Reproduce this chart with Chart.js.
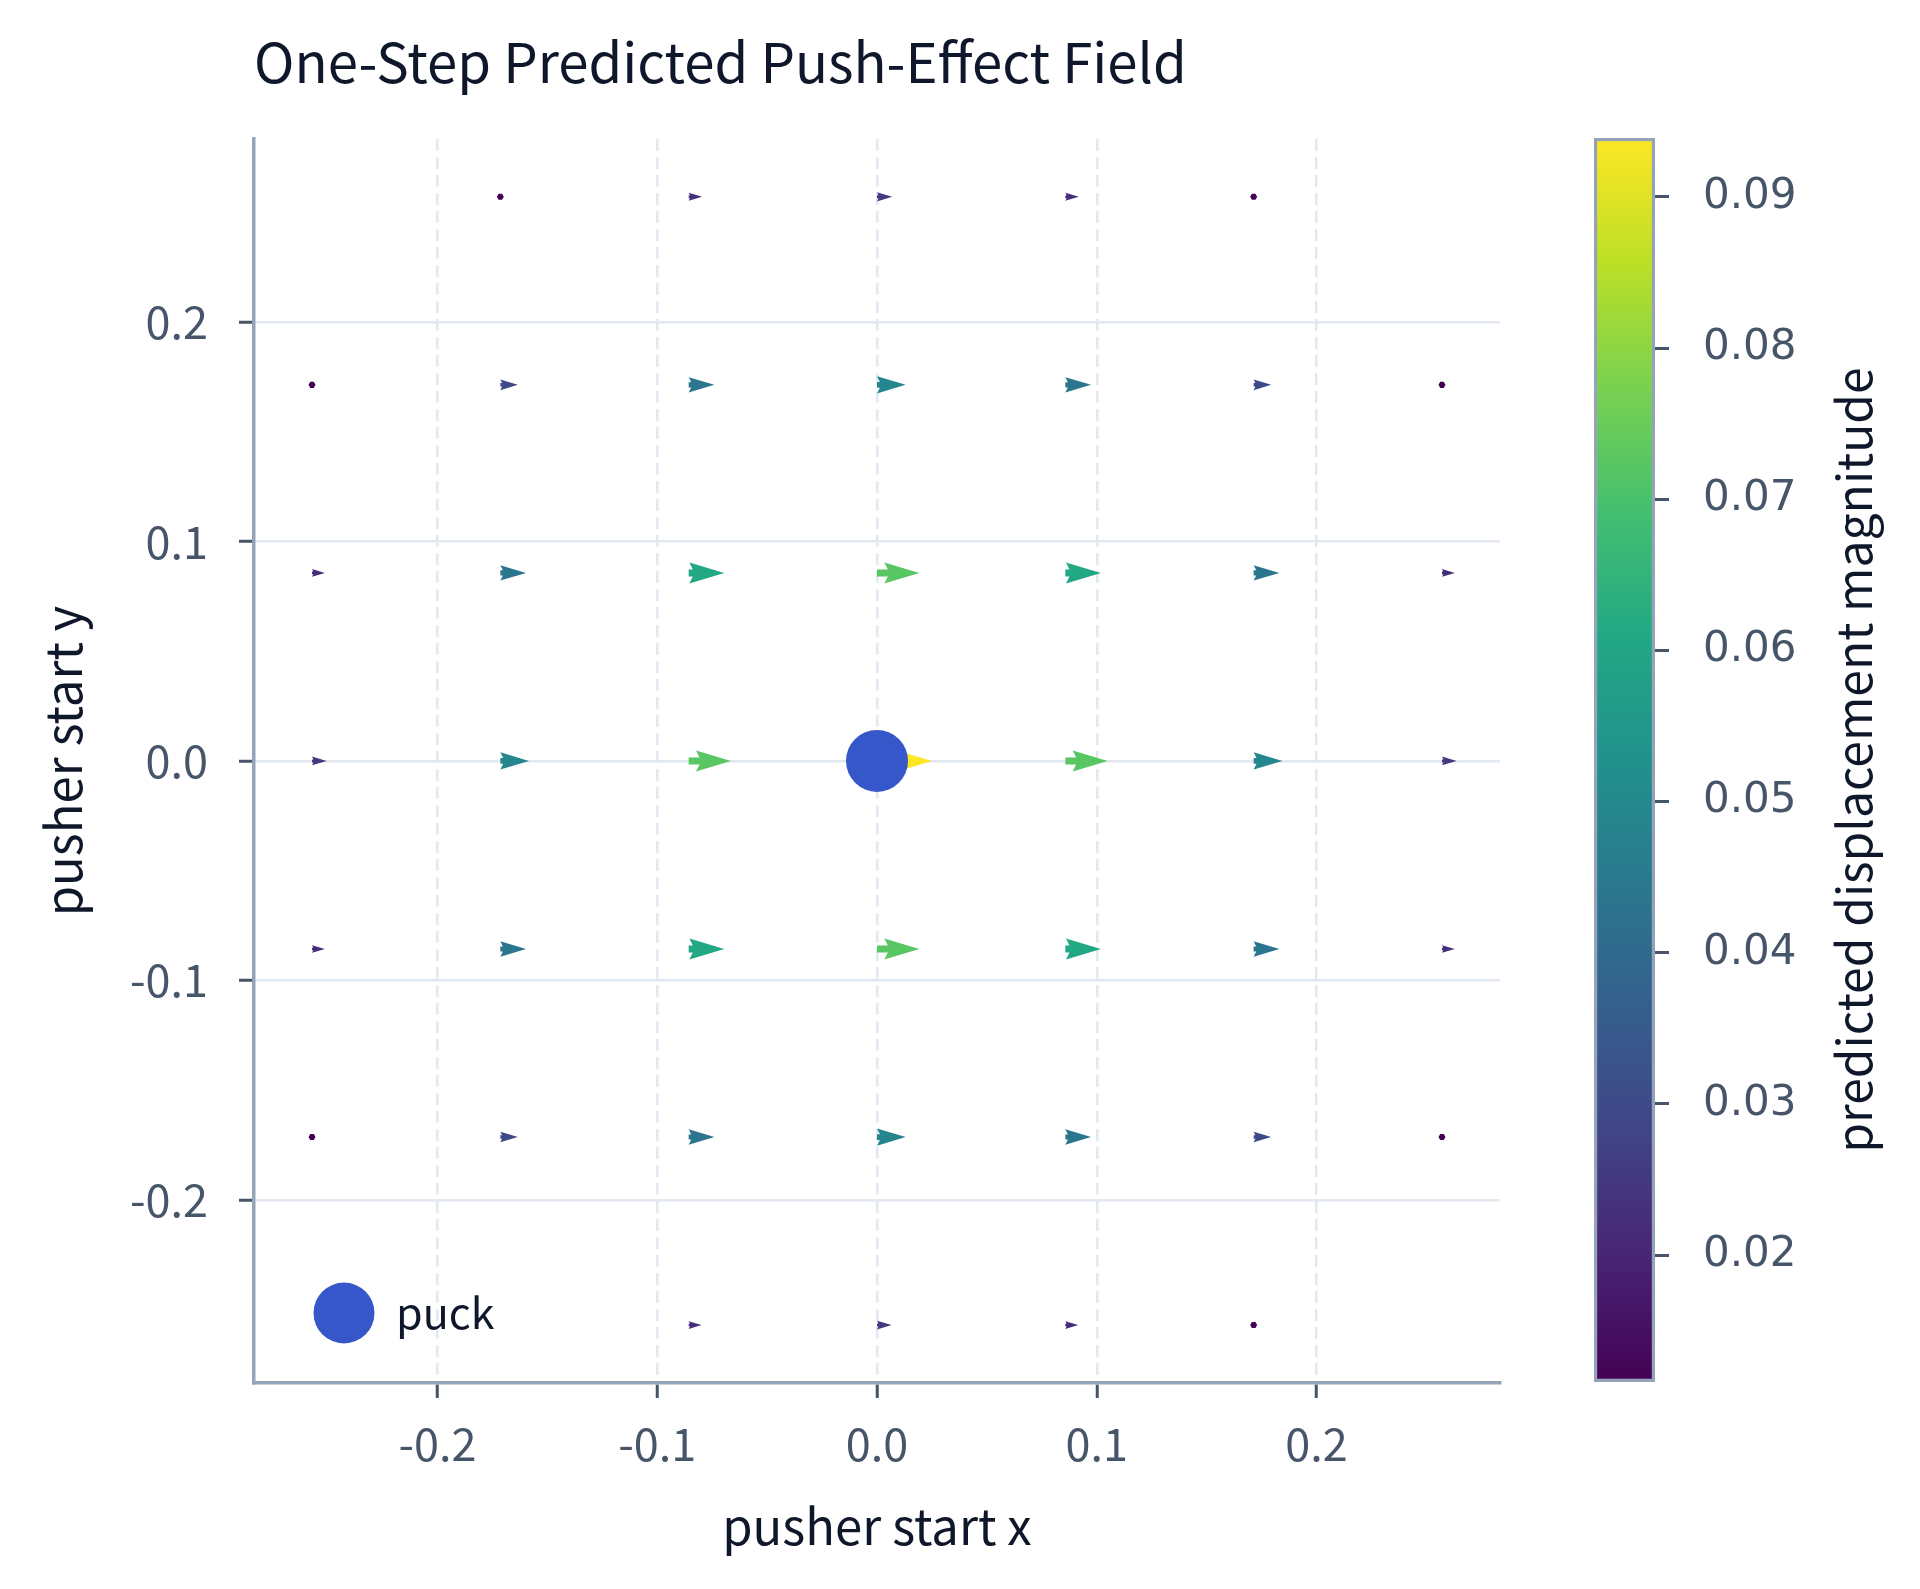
<!DOCTYPE html>
<html>
<head>
<meta charset="utf-8">
<title>One-Step Predicted Push-Effect Field</title>
<script src="https://cdn.jsdelivr.net/npm/chart.js@4.4.1/dist/chart.umd.min.js"></script>
<style>
  html, body { margin: 0; padding: 0; background: #ffffff; }
  #wrap { position: relative; width: 1920px; height: 1589px; }
  #field { position: absolute; left: 0; top: 0; }
  #cbar { position: absolute; left: 1560px; top: 0; }
</style>
</head>
<body>
<div id="wrap">
  <canvas id="field" width="1531" height="1589"></canvas>
  <canvas id="cbar" width="360" height="1589"></canvas>
</div>
<script>
// pusher start grid (7 x 7)
const gridX = [-0.2571, -0.1714, -0.0857, 0, 0.0857, 0.1714, 0.2571];
const gridY = [0.2571, 0.1714, 0.0857, 0, -0.0857, -0.1714, -0.2571];

// predicted displacement magnitude per grid cell, rows follow gridY (null = no arrow drawn)
const magnitude = [
  [null,   0.0116, 0.0230, 0.0260, 0.0230, 0.0116, null],
  [0.0116, 0.0300, 0.0440, 0.0490, 0.0440, 0.0300, 0.0116],
  [0.0220, 0.0440, 0.0610, 0.0724, 0.0610, 0.0440, 0.0220],
  [0.0250, 0.0490, 0.0724, 0.0939, 0.0724, 0.0490, 0.0250],
  [0.0220, 0.0440, 0.0610, 0.0724, 0.0610, 0.0440, 0.0220],
  [0.0116, 0.0300, 0.0440, 0.0490, 0.0440, 0.0300, 0.0116],
  [null,   null,   0.0220, 0.0250, 0.0220, 0.0116, null]
];

const puck = [{ x: 0, y: 0 }];

const xTicks = [-0.2, -0.1, 0.0, 0.1, 0.2];
const yTicks = [-0.2, -0.1, 0.0, 0.1, 0.2];
const cbTicks = [0.02, 0.03, 0.04, 0.05, 0.06, 0.07, 0.08, 0.09];

const AXIS_LIM = 0.2835;
const ARROW_SCALE = 0.266;   // arrow length in data units per unit magnitude
const SHAFT_W = 7;           // quiver shaft width, px
const LEGEND_SHIFT = 11;     // legend nudge inside the plot, px

const viridisStops = ['#440154', '#482475', '#414487', '#355f8d', '#2a788e', '#21918c',
                      '#22a884', '#44bf70', '#7ad151', '#bddf26', '#fde725'];

const FONT = "'Noto Sans CJK KR', 'Noto Sans', sans-serif";
const CB_FONT = "'DejaVu Sans', sans-serif";
const INK = '#0f172a';
const TICK_INK = '#475569';
const SPINE = '#94a3b8';
const GRID = '#e2e8f0';

Chart.defaults.font.family = FONT;

// flatten grid into scatter points
const arrowPoints = [];
gridY.forEach((y, r) => {
  gridX.forEach((x, c) => {
    const m = magnitude[r][c];
    if (m !== null) arrowPoints.push({ x: x, y: y, m: m });
  });
});
const allMags = arrowPoints.map(p => p.m);
const cbMin = Math.min(...allMags);
const cbMax = Math.max(...allMags);

function hexToRgb(h) {
  return [parseInt(h.slice(1, 3), 16), parseInt(h.slice(3, 5), 16), parseInt(h.slice(5, 7), 16)];
}

function viridis(t) {
  t = Math.max(0, Math.min(1, t));
  const pos = t * (viridisStops.length - 1);
  const i = Math.min(Math.floor(pos), viridisStops.length - 2);
  const f = pos - i;
  const a = hexToRgb(viridisStops[i]);
  const b = hexToRgb(viridisStops[i + 1]);
  const c = a.map((v, k) => Math.round(v + (b[k] - v) * f));
  return `rgb(${c[0]}, ${c[1]}, ${c[2]})`;
}

function norm(m) {
  return (m - cbMin) / (cbMax - cbMin);
}

// draws matplotlib-style quiver arrows (pivot at tail) under the puck
const quiverPlugin = {
  id: 'quiver',
  beforeDatasetsDraw(chart) {
    const ctx = chart.ctx;
    const xs = chart.scales.x;
    const meta = chart.getDatasetMeta(0);
    const pts = chart.data.datasets[0].data;
    const w = SHAFT_W;
    meta.data.forEach((el, i) => {
      const d = pts[i];
      const x0 = el.x;
      const y0 = el.y;
      const len = xs.getPixelForValue(d.x + d.m * ARROW_SCALE) - x0;
      ctx.save();
      ctx.fillStyle = viridis(norm(d.m));
      ctx.beginPath();
      if (len < w) {
        for (let k = 0; k < 7; k++) {
          const th = k * Math.PI / 3;
          const px = x0 + Math.cos(th) * w * 0.5;
          const py = y0 + Math.sin(th) * w * 0.5;
          if (k === 0) ctx.moveTo(px, py); else ctx.lineTo(px, py);
        }
      } else {
        const L = len / w;
        let X, Y;
        if (L < 5) {
          const s = L / 5;
          X = [0, 0.5, 0, 5].map(v => v * s);
          Y = [0.5, 0.5, 1.5, 0].map(v => v * s);
        } else {
          X = [0, L - 4.5, L - 5, L];
          Y = [0.5, 0.5, 1.5, 0];
        }
        const order = [0, 1, 2, 3, 2, 1, 0];
        const sign = [-1, -1, -1, 1, 1, 1, 1];
        order.forEach((k, j) => {
          const px = x0 + X[k] * w;
          const py = y0 + sign[j] * Y[k] * w;
          if (j === 0) ctx.moveTo(px, py); else ctx.lineTo(px, py);
        });
      }
      ctx.closePath();
      ctx.fill();
      ctx.restore();
    });
  }
};

// a chartArea legend is laid out from y = 0, pin it to the plot box instead
const legendAnchorPlugin = {
  id: 'legendAnchor',
  afterLayout(chart) {
    const lg = chart.legend;
    const area = chart.chartArea;
    if (!lg) return;
    lg.top = area.top;
    lg.bottom = area.bottom;
    lg.left = area.left + LEGEND_SHIFT;
  }
};

const tickFont = { family: FONT, size: 45 };
const titleFont = { family: FONT, size: 49 };

new Chart(document.getElementById('field'), {
  type: 'scatter',
  data: {
    datasets: [
      {
        label: 'arrows',
        data: arrowPoints,
        pointRadius: 0,
        pointHoverRadius: 0
      },
      {
        label: 'puck',
        data: puck,
        pointStyle: 'circle',
        pointRadius: 31,
        pointHoverRadius: 31,
        backgroundColor: '#3557c9',
        borderWidth: 0
      }
    ]
  },
  options: {
    responsive: false,
    animation: false,
    devicePixelRatio: 1,
    layout: { padding: { left: 0, right: 21, top: 0, bottom: 0 } },
    plugins: {
      title: {
        display: true,
        text: 'One-Step Predicted Push-Effect Field',
        align: 'start',
        fullSize: false,
        color: INK,
        font: { family: FONT, size: 54.5, weight: 'normal' },
        padding: { top: 30, bottom: 43.5 }
      },
      legend: {
        position: 'chartArea',
        align: 'end',
        labels: {
          filter: item => item.datasetIndex === 1,
          usePointStyle: true,
          pointStyle: 'circle',
          pointStyleWidth: 61,
          padding: 48.5,
          color: INK,
          font: { family: FONT, size: 43 }
        }
      },
      tooltip: { enabled: false }
    },
    scales: {
      x: {
        type: 'linear',
        min: -AXIS_LIM,
        max: AXIS_LIM,
        afterBuildTicks: s => { s.ticks = xTicks.map(v => ({ value: v })); },
        afterFit: s => { s.height = 206; },
        ticks: { callback: v => v.toFixed(1), color: TICK_INK, font: tickFont, padding: 19, maxRotation: 0 },
        grid: { color: GRID, lineWidth: 2.5, tickLength: 15, tickWidth: 3, tickColor: TICK_INK, tickBorderDash: [] },
        border: { color: SPINE, width: 3.5, dash: [12, 6] },
        title: { display: true, text: 'pusher start x', color: INK, font: titleFont, padding: { top: 0, bottom: 33 } }
      },
      y: {
        type: 'linear',
        min: -AXIS_LIM,
        max: AXIS_LIM,
        afterBuildTicks: s => { s.ticks = yTicks.map(v => ({ value: v })); },
        afterFit: s => { s.width = 254; },
        ticks: { callback: v => v.toFixed(1), color: TICK_INK, font: tickFont, padding: 31 },
        grid: { color: GRID, lineWidth: 2.5, tickLength: 15, tickWidth: 3, tickColor: TICK_INK },
        border: { color: SPINE, width: 3.5 },
        title: { display: true, text: 'pusher start y', color: INK, font: titleFont, padding: { top: 34, bottom: 0 } }
      }
    }
  },
  plugins: [quiverPlugin, legendAnchorPlugin]
});

// colorbar label reads bottom-to-top like the y axis title
const cbTitlePlugin = {
  id: 'cbTitle',
  afterDraw(chart) {
    const ctx = chart.ctx;
    const s = chart.scales.y;
    const area = chart.chartArea;
    ctx.save();
    ctx.translate(s.right - 66, (area.top + area.bottom) / 2);
    ctx.rotate(-Math.PI / 2);
    ctx.textAlign = 'center';
    ctx.textBaseline = 'middle';
    ctx.font = `48px ${FONT}`;
    ctx.fillStyle = INK;
    ctx.fillText('predicted displacement magnitude', 0, 0);
    ctx.restore();
  }
};

new Chart(document.getElementById('cbar'), {
  type: 'bar',
  data: {
    labels: ['magnitude'],
    datasets: [{
      data: [[cbMin, cbMax]],
      backgroundColor: c => {
        const area = c.chart.chartArea;
        if (!area) return viridisStops[5];
        const g = c.chart.ctx.createLinearGradient(0, area.bottom, 0, area.top);
        viridisStops.forEach((col, i) => g.addColorStop(i / (viridisStops.length - 1), col));
        return g;
      },
      borderColor: SPINE,
      borderWidth: 3.5,
      borderSkipped: false,
      barPercentage: 1,
      categoryPercentage: 1
    }]
  },
  options: {
    responsive: false,
    animation: false,
    devicePixelRatio: 1,
    layout: { padding: { left: 34, right: 0, top: 138, bottom: 207 } },
    plugins: { legend: { display: false }, title: { display: false }, tooltip: { enabled: false } },
    scales: {
      x: { display: false },
      y: {
        position: 'right',
        min: cbMin,
        max: cbMax,
        afterBuildTicks: s => { s.ticks = cbTicks.map(v => ({ value: v })); },
        afterFit: s => { s.width = 265; },
        ticks: { callback: v => v.toFixed(2), color: TICK_INK, font: { family: CB_FONT, size: 42 }, padding: 34 },
        grid: { drawOnChartArea: false, drawTicks: true, tickLength: 14, tickWidth: 3, tickColor: TICK_INK },
        border: { display: false }
      }
    }
  },
  plugins: [cbTitlePlugin]
});
</script>
</body>
</html>
